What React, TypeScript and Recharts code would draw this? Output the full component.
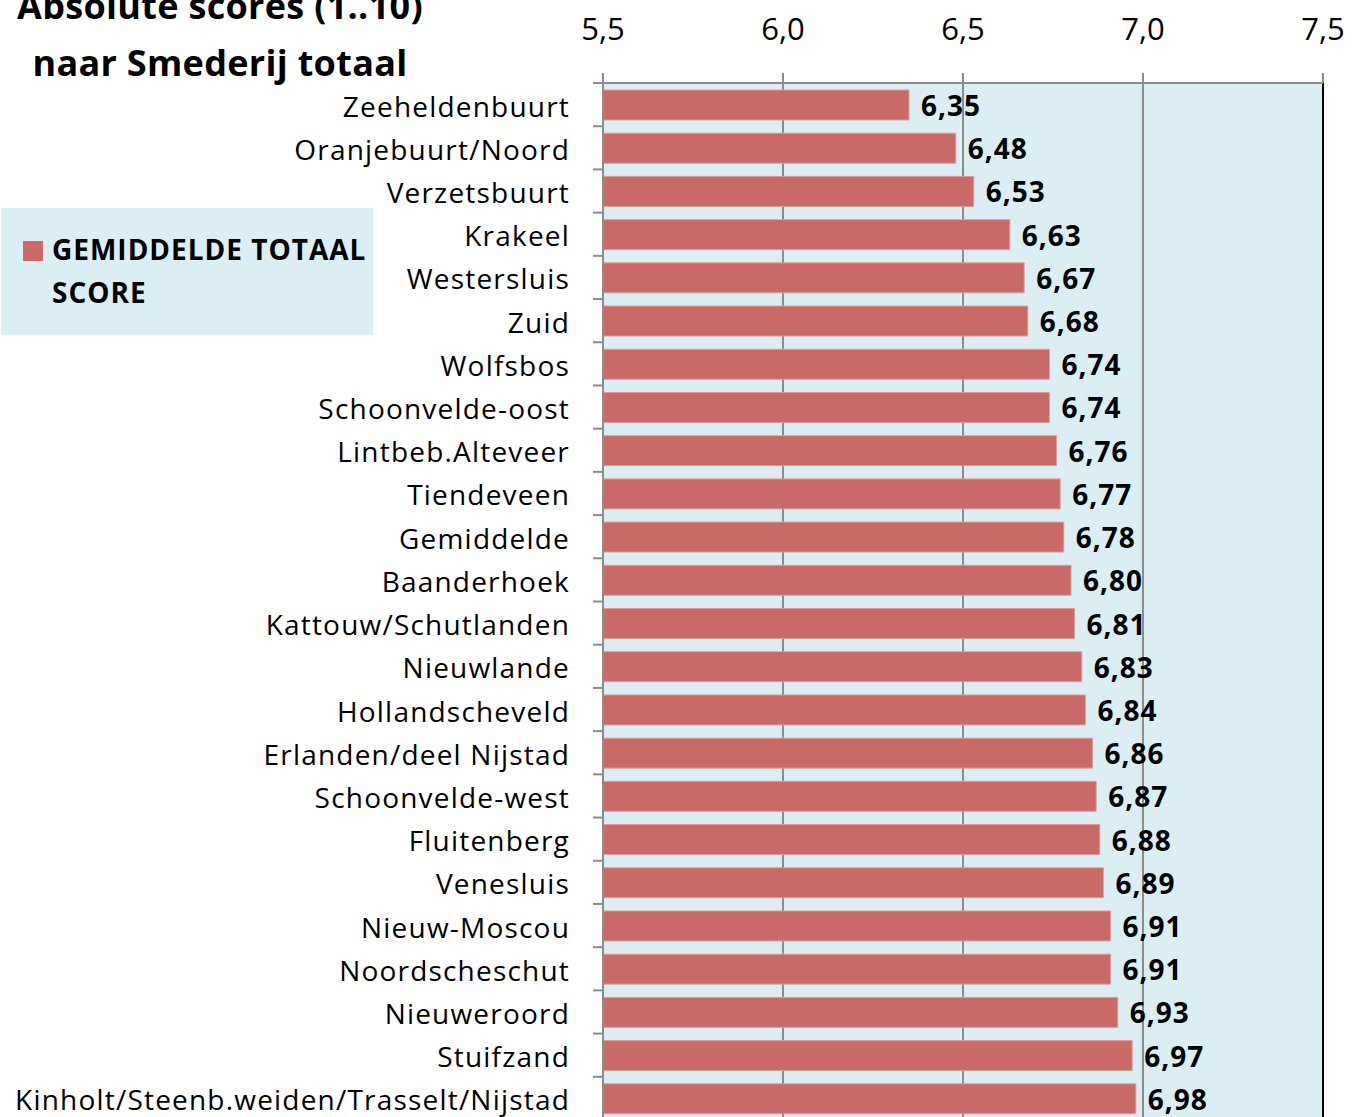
import React from 'react';
import {
  BarChart,
  Bar,
  XAxis,
  YAxis,
  CartesianGrid,
  LabelList,
  ReferenceLine
} from 'recharts';

// Wijken, van laag naar hoog
const wijken = [
  'Zeeheldenbuurt',
  'Oranjebuurt/Noord',
  'Verzetsbuurt',
  'Krakeel',
  'Westersluis',
  'Zuid',
  'Wolfsbos',
  'Schoonvelde-oost',
  'Lintbeb.Alteveer',
  'Tiendeveen',
  'Gemiddelde',
  'Baanderhoek',
  'Kattouw/Schutlanden',
  'Nieuwlande',
  'Hollandscheveld',
  'Erlanden/deel Nijstad',
  'Schoonvelde-west',
  'Fluitenberg',
  'Venesluis',
  'Nieuw-Moscou',
  'Noordscheschut',
  'Nieuweroord',
  'Stuifzand',
  'Kinholt/Steenb.weiden/Trasselt/Nijstad'
];

const scores = [
  6.35, 6.48, 6.53, 6.63, 6.67, 6.68, 6.74, 6.74, 6.76, 6.77, 6.78, 6.8,
  6.81, 6.83, 6.84, 6.86, 6.87, 6.88, 6.89, 6.91, 6.91, 6.93, 6.97, 6.98
];

const xTicks = [5.5, 6.0, 6.5, 7.0, 7.5];

const seriesName = 'GEMIDDELDE TOTAAL SCORE';
const titleLines = ['Absolute scores (1..10)', 'naar Smederij totaal'];

const data = wijken.map((name, i) => ({ name, score: scores[i] }));

const FONT = '"Open Sans", "Noto Sans", sans-serif';
const CHART_W = 1361;
const CHART_H = 1125;
const MARGIN = { top: 23, right: 38, bottom: 5, left: 503 };
const X_AXIS_H = 60;
const Y_AXIS_W = 100;
const PLOT_H = CHART_H - MARGIN.top - X_AXIS_H - MARGIN.bottom;
const BAND = PLOT_H / wijken.length;

const comma = (v: number, digits: number) => v.toFixed(digits).replace('.', ',');

const CategoryTick = (props: any) => {
  const { x, y, payload, index } = props;
  const half = BAND / 2;
  return (
    <g>
      <line x1={x - 10} x2={x} y1={y - half} y2={y - half} stroke="#8c8c8c" strokeWidth={2} />
      {index === wijken.length - 1 && (
        <line x1={x - 10} x2={x} y1={y + half} y2={y + half} stroke="#8c8c8c" strokeWidth={2} />
      )}
      <text
        x={x - 33}
        y={y + 1}
        textAnchor="end"
        dominantBaseline="central"
        fontFamily={FONT}
        fontSize={28}
        letterSpacing={1.2}
        fill="#000"
      >
        {payload.value}
      </text>
    </g>
  );
};

const ValueLabel = (props: any) => {
  const { x, y, width, height, value } = props;
  return (
    <text
      x={x + width + 12}
      y={y + height / 2}
      dominantBaseline="central"
      fontFamily={FONT}
      fontSize={28}
      fontWeight="bold"
      letterSpacing={1}
      fill="#000"
    >
      {comma(value, 2)}
    </text>
  );
};

export default function App() {
  return (
    <div
      style={{
        position: 'absolute',
        left: 0,
        top: 0,
        width: 1361,
        height: 1117,
        overflow: 'hidden',
        background: '#fff',
        fontFamily: FONT
      }}
    >
      <div
        style={{
          position: 'absolute',
          left: 0,
          top: -23,
          width: 440,
          textAlign: 'center',
          fontSize: 36,
          fontWeight: 'bold',
          lineHeight: '57px',
          letterSpacing: 0.3,
          color: '#000',
          whiteSpace: 'nowrap'
        }}
      >
        {titleLines.map((t) => (
          <div key={t}>{t}</div>
        ))}
      </div>

      <BarChart
        width={CHART_W}
        height={CHART_H}
        data={data}
        layout="vertical"
        margin={MARGIN}
      >
        <CartesianGrid
          horizontal={false}
          vertical
          stroke="#8c8c8c"
          strokeWidth={2}
          fill="#dbeef4"
        />
        <XAxis
          type="number"
          orientation="top"
          domain={[5.5, 7.5]}
          ticks={xTicks}
          height={X_AXIS_H}
          tickSize={10}
          tickMargin={33}
          allowDataOverflow
          axisLine={{ stroke: '#8c8c8c', strokeWidth: 2 }}
          tickLine={{ stroke: '#8c8c8c', strokeWidth: 2 }}
          tick={{ fontFamily: FONT, fontSize: 31, fill: '#000', letterSpacing: 0 }}
          tickFormatter={(v: number) => comma(v, 1)}
        />
        <YAxis
          type="category"
          dataKey="name"
          width={Y_AXIS_W}
          tickSize={0}
          tickMargin={0}
          interval={0}
          tickLine={false}
          axisLine={{ stroke: '#8c8c8c', strokeWidth: 2 }}
          tick={<CategoryTick />}
        />
        <ReferenceLine x={7.5} stroke="#000" strokeWidth={2} />
        <Bar
          dataKey="score"
          name={seriesName}
          fill="#c96a68"
          stroke="#dc9e9c"
          strokeWidth={1}
          barSize={30}
          isAnimationActive={false}
        >
          <LabelList dataKey="score" content={<ValueLabel />} />
        </Bar>
      </BarChart>

      <div
        style={{
          position: 'absolute',
          left: 1,
          top: 208,
          width: 372,
          height: 127,
          background: '#dbeef4'
        }}
      >
        <div
          style={{
            position: 'absolute',
            left: 22,
            top: 33,
            width: 20,
            height: 20,
            background: '#c96a68'
          }}
        />
        <div
          style={{
            position: 'absolute',
            left: 51,
            top: 20,
            width: 320,
            fontSize: 28,
            fontWeight: 'bold',
            lineHeight: '43px',
            letterSpacing: 1,
            color: '#000'
          }}
        >
          {seriesName}
        </div>
      </div>
    </div>
  );
}
